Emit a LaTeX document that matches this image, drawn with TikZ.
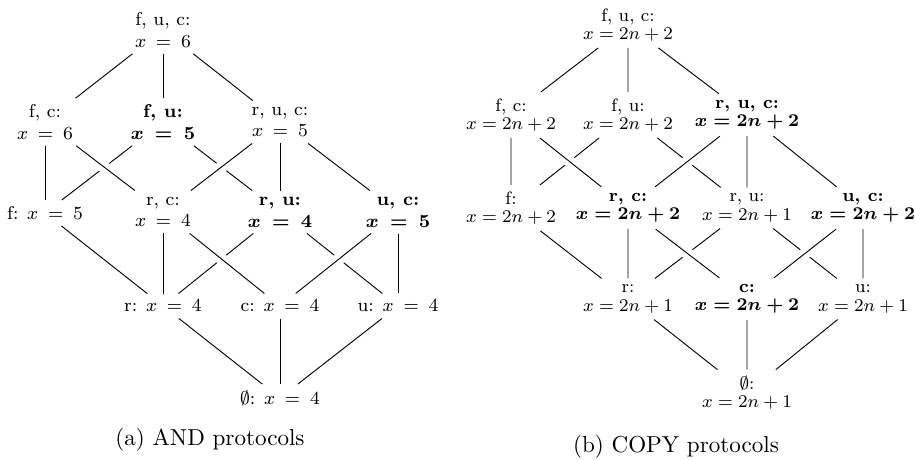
\documentclass[tikz,border=0pt]{standalone}
\begin{document}
\begin{tikzpicture}[x=0.4329pt,y=-0.4329pt,
  an/.style={align=center, font=\fontsize{8}{9.4}\selectfont, inner sep=2.6pt},
  anb/.style={an, font=\fontsize{8}{9.4}\selectfont\bfseries\boldmath},
  bn/.style={align=center, font=\fontsize{8}{8.2}\selectfont, inner sep=2.7pt, scale=0.97, transform shape},
  bnb/.style={bn, font=\fontsize{8}{8.2}\selectfont\bfseries\boldmath},
  captext/.style={font=\fontsize{10}{12}\selectfont, inner sep=0pt},
  edge/.style={draw=black, line width=0.4pt},
  over/.style={edge, preaction={draw=white, line width=5pt, shorten <=14pt, shorten >=14pt}}]
\useasboundingbox (0,0) rectangle (915,460);

% ---------------- (a) AND protocols ----------------
\node[an]  (afuc) at (163,30)  {f, u, c:\\ $x\:=\:6$};
\node[an]  (afc)  at (45,122)  {f, c:\\ $x\:=\:6$};
\node[anb] (afu)  at (163,122) {f, u:\\ $x\:=\:5$};
\node[an]  (aruc) at (280,122) {r, u, c:\\ $x\:=\:5$};
\node[an]  (af)   at (45,213)  {f: $x\:=\:5$};
\node[an]  (arc)  at (163,212) {r, c:\\ $x\:=\:4$};
\node[anb] (aru)  at (280,212) {r, u:\\ $x\:=\:4$};
\node[anb] (auc)  at (398,212) {u, c:\\ $x\:=\:5$};
\node[an]  (ar)   at (163,306) {r: $x\:=\:4$};
\node[an]  (ac)   at (280,306) {c: $x\:=\:4$};
\node[an]  (au)   at (398,306) {u: $x\:=\:4$};
\node[an]  (ae)   at (280,398) {$\emptyset$: $x\:=\:4$};
\node[captext] (capa) at (210,440) {(a) AND protocols};

\path[edge] (afuc) -- (afc);
\path[edge] (afuc) -- (afu);
\path[edge] (afuc) -- (aruc);
\path[edge] (afc) -- (af);
\path[edge] (afu) -- (af);
\path[edge] (afu) -- (aru);
\path[edge] (aruc) -- (aru);
\path[edge] (aruc) -- (auc);
\path[edge] (af) -- (ar);
\path[edge] (arc) -- (ar);
\path[edge] (aru) -- (ar);
\path[edge] (aru) -- (au);
\path[edge] (auc) -- (au);
\path[edge] (ar) -- (ae);
\path[edge] (ac) -- (ae);
\path[edge] (au) -- (ae);
\path[over] (afc) -- (arc);
\path[over] (aruc) -- (arc);
\path[over] (arc) -- (ac);
\path[over] (auc) -- (ac);

% ---------------- (b) COPY protocols ----------------
\node[bn]  (bfuc) at (628,25)  {f, u, c:\\ $x = 2n+2$};
\node[bn]  (bfc)  at (511,115) {f, c:\\ $x = 2n+2$};
\node[bn]  (bfu)  at (628,115) {f, u:\\ $x = 2n+2$};
\node[bnb] (bruc) at (747,115) {r, u, c:\\ $x = 2n+2$};
\node[bn]  (bf)   at (511,208) {f:\\ $x = 2n+2$};
\node[bnb] (brc)  at (628,208) {r, c:\\ $x = 2n+2$};
\node[bn]  (bru)  at (747,208) {r, u:\\ $x = 2n+1$};
\node[bnb] (buc)  at (863,208) {u, c:\\ $x = 2n+2$};
\node[bn]  (br)   at (628,299) {r:\\ $x = 2n+1$};
\node[bnb] (bc)   at (747,299) {c:\\ $x = 2n+2$};
\node[bn]  (bu)   at (863,299) {u:\\ $x = 2n+1$};
\node[bn]  (be)   at (747,393) {$\emptyset$:\\ $x = 2n+1$};
\node[captext] (capb) at (676,447) {(b) COPY protocols};

\path[edge] (bfuc) -- (bfc);
\path[edge] (bfuc) -- (bfu);
\path[edge] (bfuc) -- (bruc);
\path[edge] (bfc) -- (bf);
\path[edge] (bfu) -- (bf);
\path[edge] (bfu) -- (bru);
\path[edge] (bruc) -- (bru);
\path[edge] (bruc) -- (buc);
\path[edge] (bf) -- (br);
\path[edge] (brc) -- (br);
\path[edge] (bru) -- (br);
\path[edge] (bru) -- (bu);
\path[edge] (buc) -- (bu);
\path[edge] (br) -- (be);
\path[edge] (bc) -- (be);
\path[edge] (bu) -- (be);
\path[over] (bfc) -- (brc);
\path[over] (bruc) -- (brc);
\path[over] (brc) -- (bc);
\path[over] (buc) -- (bc);
\end{tikzpicture}
\end{document}
